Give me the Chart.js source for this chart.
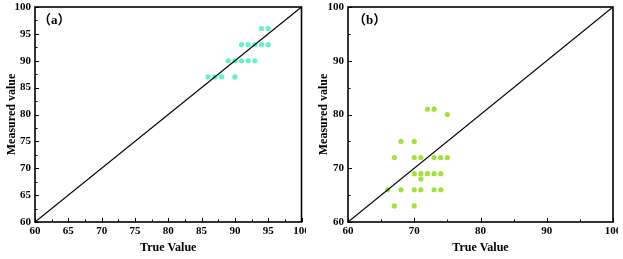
<!DOCTYPE html>
<html>
<head>
<meta charset="utf-8">
<script src="https://cdn.jsdelivr.net/npm/chart.js@4.4.1/dist/chart.umd.min.js"></script>
<style>
    html, body { margin: 0; padding: 0; background: #fff; }
    body { width: 623px; height: 259px; position: relative; overflow: hidden; }
    .panel { position: absolute; top: 0; height: 259px; overflow: hidden; }
    .panel canvas { position: absolute; left: 0; top: 0; }
</style>
</head>
<body>
<div class="panel" id="panel-a" style="left:0;width:306px"><canvas id="chart-a"></canvas></div>
<div class="panel" id="panel-b" style="left:316px;width:302px"><canvas id="chart-b"></canvas></div>
<script>
// Panel (a)
const aTrue     = [94, 95, 91, 92, 93, 94, 95, 89, 90, 91, 92, 93, 86, 87, 88, 90];
const aMeasured = [96, 96, 93, 93, 93, 93, 93, 90, 90, 90, 90, 90, 87, 87, 87, 87];
const aTicks    = [60, 65, 70, 75, 80, 85, 90, 95, 100];

// Panel (b)
const bTrue     = [72, 73, 75, 68, 70, 67, 70, 71, 73, 74, 75, 70, 71, 72, 73, 74, 71, 66, 68, 70, 71, 73, 74, 67, 70];
const bMeasured = [81, 81, 80, 75, 75, 72, 72, 72, 72, 72, 72, 69, 69, 69, 69, 69, 68, 66, 66, 66, 66, 66, 66, 63, 63];
const bTicks    = [60, 70, 80, 90, 100];

const diagonal = [60, 100];

const FONT = "'Liberation Serif', 'Times New Roman', serif";
const H = 259;

// inward ticks, minor ticks, frame and panel tag
const framePlugin = {
    id: 'frame',
    afterDraw(chart) {
        const { ctx, chartArea: a, scales } = chart;
        const opts = chart.options.plugins.frame;
        ctx.save();
        ctx.strokeStyle = '#000';
        ctx.lineWidth = 1;
        const ticks = opts.ticks;
        for (let i = 0; i < ticks.length; i++) {
            const x = Math.round(scales.x.getPixelForValue(ticks[i])) + 0.5;
            const y = Math.round(scales.y.getPixelForValue(ticks[i])) + 0.5;
            ctx.beginPath();
            ctx.moveTo(x, a.bottom); ctx.lineTo(x, a.bottom - 4);
            ctx.moveTo(a.left, y); ctx.lineTo(a.left + 4, y);
            ctx.stroke();
            if (i < ticks.length - 1) {
                const m = (ticks[i] + ticks[i + 1]) / 2;
                const mx = Math.round(scales.x.getPixelForValue(m)) + 0.5;
                const my = Math.round(scales.y.getPixelForValue(m)) + 0.5;
                ctx.beginPath();
                ctx.moveTo(mx, a.bottom); ctx.lineTo(mx, a.bottom - 2.5);
                ctx.moveTo(a.left, my); ctx.lineTo(a.left + 2.5, my);
                ctx.stroke();
            }
        }
        ctx.lineWidth = 1.6;
        ctx.strokeRect(a.left, a.top, a.right - a.left, a.bottom - a.top);

        ctx.fillStyle = '#000';
        ctx.font = "bold 13px " + FONT + ", 'Noto Sans CJK SC'";
        ctx.textBaseline = 'middle';
        ctx.fillText(opts.tag, a.left + opts.tagOffset, a.top + 14);
        ctx.restore();
    }
};

function makeChart(id, width, plotLeft, plotRight, xs, ys, ticks, color, tag, tagOffset, titlePad) {
    const canvas = document.getElementById(id);
    canvas.width = width;
    canvas.height = H;
    canvas.style.width = width + 'px';
    canvas.style.height = H + 'px';

    const points = xs.map((x, i) => ({ x: x, y: ys[i] }));
    const line = diagonal.map((v) => ({ x: v, y: v }));
    const tickFont = { family: FONT, size: 11, weight: 'bold' };
    const titleFont = { family: FONT, size: 12, weight: 'bold' };

    const zeroPad = (s) => {
        s.paddingLeft = 0; s.paddingRight = 0;
        s.paddingTop = 0; s.paddingBottom = 0;
    };

    return new Chart(canvas.getContext('2d'), {
        type: 'scatter',
        data: {
            datasets: [{
                type: 'line',
                data: line,
                borderColor: '#000',
                borderWidth: 1.2,
                pointRadius: 0,
                fill: false
            }, {
                data: points,
                backgroundColor: color,
                borderColor: color,
                borderWidth: 0,
                pointRadius: 2.6
            }]
        },
        options: {
            responsive: false,
            animation: false,
            devicePixelRatio: 1,
            layout: { padding: { left: 0, top: 7, right: width - plotRight, bottom: 0 } },
            plugins: {
                legend: { display: false },
                tooltip: { enabled: false },
                frame: { ticks: ticks, tag: tag, tagOffset: tagOffset }
            },
            scales: {
                x: {
                    type: 'linear',
                    min: 60,
                    max: 100,
                    afterBuildTicks: (s) => { s.ticks = ticks.map((v) => ({ value: v })); },
                    afterFit: (s) => { s.height = H - 222; zeroPad(s); },
                    grid: { display: false, drawTicks: false },
                    border: { display: false },
                    ticks: { color: '#000', font: tickFont, padding: 3, maxRotation: 0, autoSkip: false },
                    title: { display: true, text: 'True Value', color: '#000', font: titleFont, padding: { top: 0, bottom: 4 } }
                },
                y: {
                    type: 'linear',
                    min: 60,
                    max: 100,
                    afterBuildTicks: (s) => { s.ticks = ticks.map((v) => ({ value: v })); },
                    afterFit: (s) => { s.width = plotLeft; zeroPad(s); },
                    grid: { display: false, drawTicks: false },
                    border: { display: false },
                    ticks: { color: '#000', font: tickFont, padding: 4, autoSkip: false },
                    title: { display: true, text: 'Measured value', color: '#000', font: titleFont, padding: { top: titlePad, bottom: 0 } }
                }
            }
        },
        plugins: [framePlugin]
    });
}

makeChart('chart-a', 320, 35, 301.5, aTrue, aMeasured, aTicks, 'rgb(102, 242, 196)', '（a）', 3, 5);
makeChart('chart-b', 320, 32, 297, bTrue, bMeasured, bTicks, 'rgb(162, 226, 58)', '（b）', 5, 1);
</script>
</body>
</html>
